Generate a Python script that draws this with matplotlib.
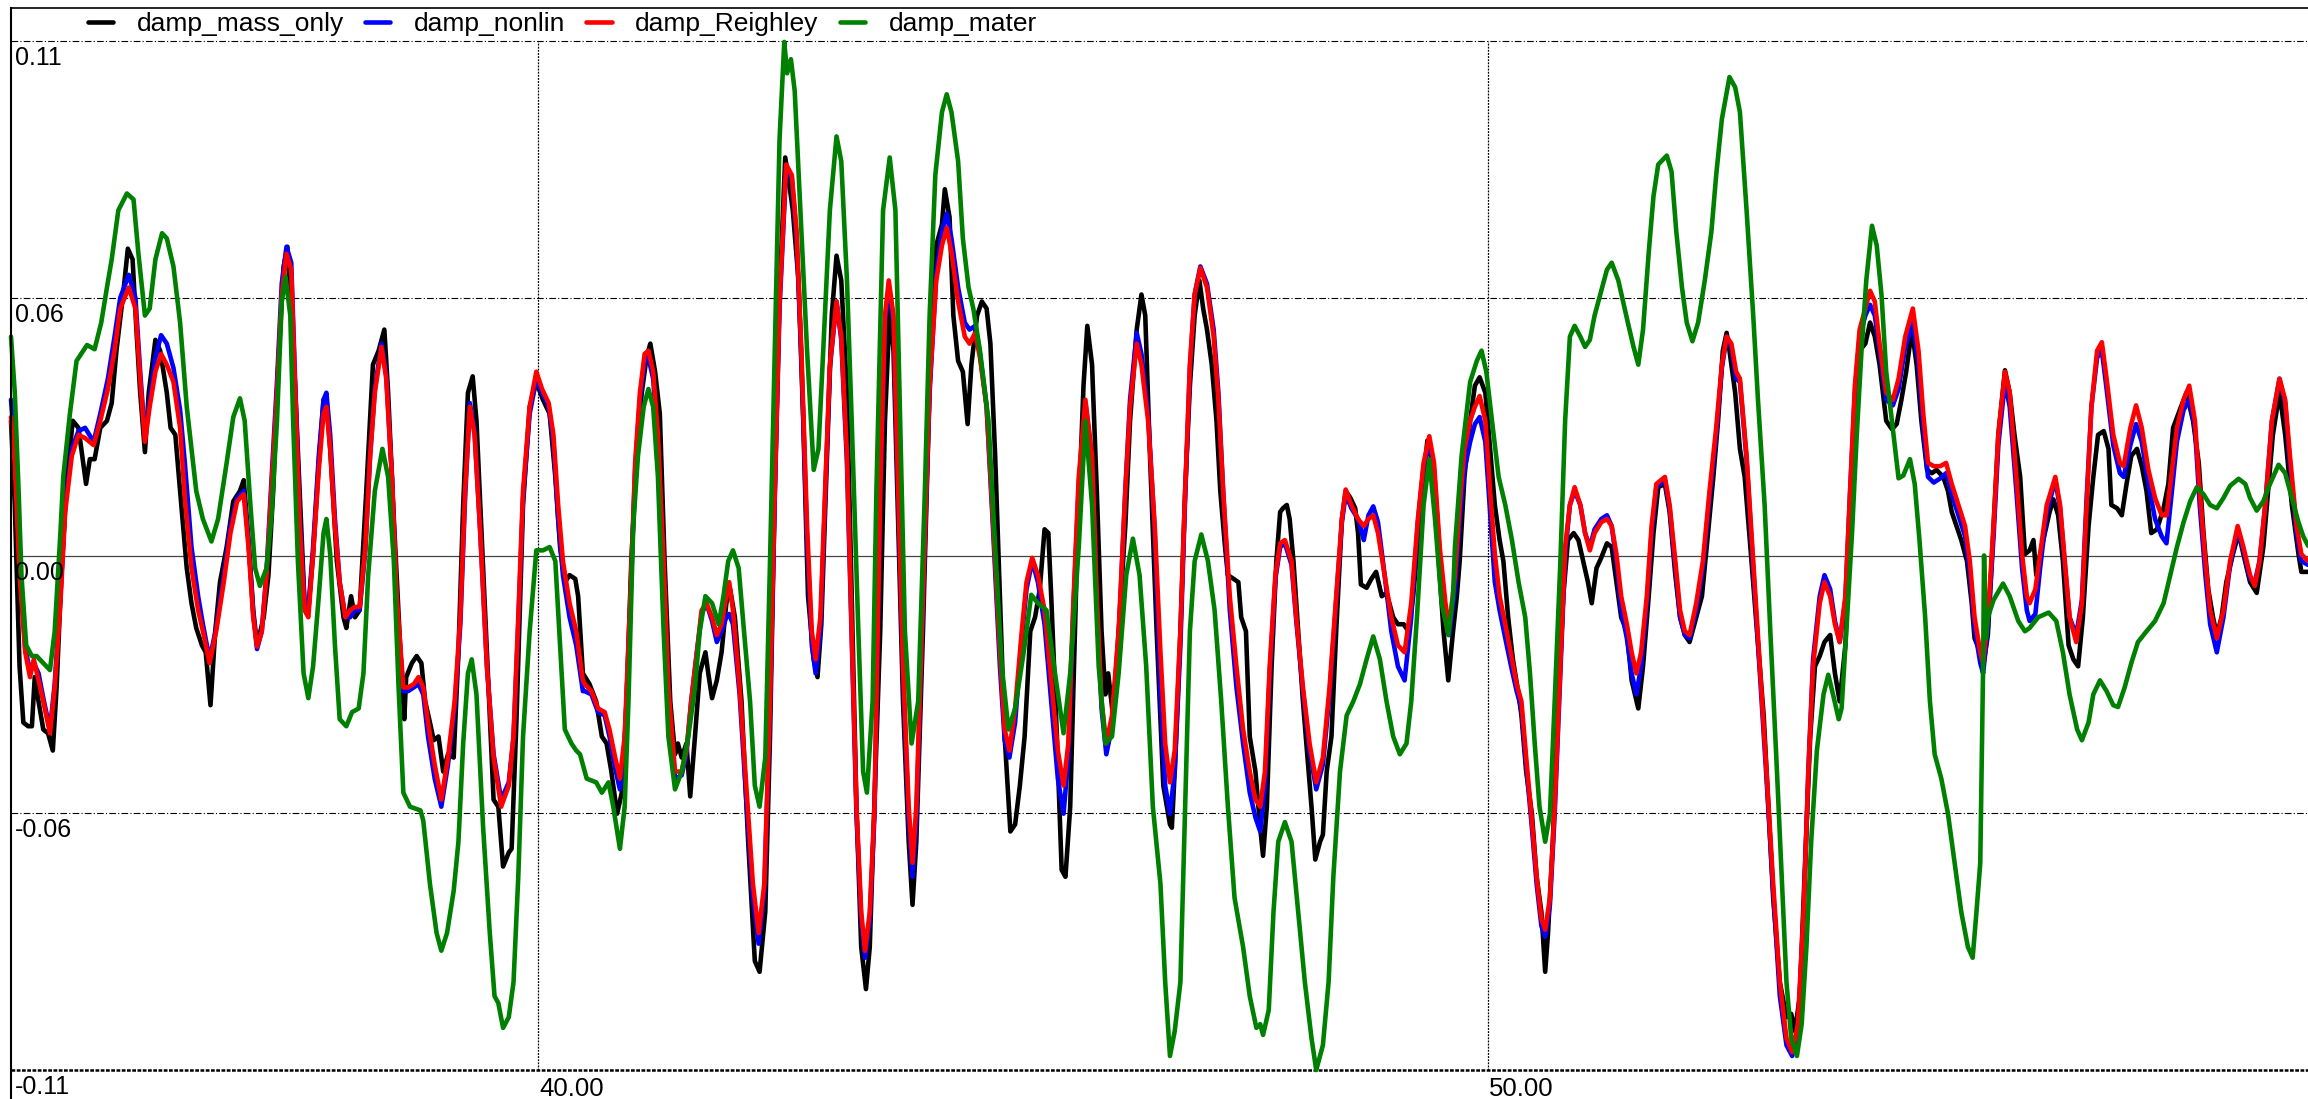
import matplotlib
matplotlib.use("Agg")
import matplotlib.pyplot as plt
from matplotlib.lines import Line2D
from matplotlib import transforms

plt.rcParams['font.family'] = ['Liberation Sans', 'DejaVu Sans']

# time samples shared by damp_nonlin and damp_Reighley
t_rb = [
    34.45, 34.49, 34.54, 34.60, 34.65, 34.69, 34.74, 34.79, 34.86, 34.91, 34.97, 35.02, 35.09, 35.16, 35.23, 35.32,
    35.39, 35.47, 35.54, 35.60, 35.69, 35.76, 35.81, 35.86, 35.91, 35.97, 36.03, 36.09, 36.16, 36.23, 36.28, 36.35,
    36.42, 36.47, 36.54, 36.61, 36.69, 36.76, 36.83, 36.90, 36.95, 37.00, 37.04, 37.09, 37.14, 37.19, 37.25, 37.30,
    37.35, 37.40,
    37.44, 37.49, 37.54, 37.58, 37.63, 37.69, 37.74, 37.77, 37.81, 37.86, 37.91, 37.97, 38.02, 38.07, 38.12, 38.18,
    38.23, 38.28, 38.35, 38.40, 38.46, 38.51, 38.58, 38.63, 38.69, 38.74, 38.79, 38.84, 38.91, 38.98, 39.05, 39.12,
    39.18, 39.23, 39.28, 39.33, 39.39, 39.46, 39.53, 39.61, 39.69, 39.74, 39.79, 39.84, 39.91, 39.98, 40.04, 40.11,
    40.16, 40.21, 40.26, 40.33, 40.40, 40.47,
    40.49, 40.56, 40.63, 40.70, 40.75, 40.81, 40.86, 40.91, 40.97, 41.02, 41.07, 41.12, 41.16, 41.21, 41.26, 41.32,
    41.37, 41.44, 41.51, 41.56, 41.61, 41.67, 41.72, 41.77, 41.83, 41.88, 41.93, 41.98, 42.01, 42.05, 42.12, 42.19,
    42.26, 42.32, 42.38, 42.44, 42.49, 42.54, 42.61, 42.67, 42.72, 42.77, 42.83, 42.88, 42.92, 42.97, 43.02, 43.07,
    43.14, 43.19, 43.25, 43.30, 43.35, 43.40, 43.44, 43.49, 43.54,
    43.60, 43.65, 43.69, 43.74, 43.79, 43.84, 43.90, 43.94, 43.98, 44.05, 44.12, 44.19, 44.25, 44.30, 44.35, 44.42,
    44.49, 44.54, 44.60, 44.65, 44.72, 44.79, 44.86, 44.91, 44.96, 45.02, 45.09, 45.14, 45.20, 45.26, 45.33, 45.40,
    45.47, 45.53, 45.58, 45.63, 45.69, 45.76, 45.83, 45.88, 45.93, 45.98, 46.04, 46.11, 46.18, 46.23, 46.30, 46.35,
    46.42, 46.49,
    46.55, 46.60, 46.65, 46.70, 46.76, 46.81, 46.86, 46.91, 46.97, 47.04, 47.11, 47.16, 47.21, 47.28, 47.35, 47.42,
    47.49, 47.55, 47.60, 47.65, 47.70, 47.76, 47.81, 47.86, 47.93, 47.98, 48.05, 48.12, 48.19, 48.26, 48.33, 48.40,
    48.46, 48.50, 48.56, 48.63, 48.69, 48.74, 48.79, 48.84, 48.91, 48.98, 49.05, 49.12, 49.19, 49.26, 49.32, 49.38,
    49.43, 49.49, 49.55, 49.59,
    49.65, 49.70, 49.75, 49.81, 49.86, 49.91, 49.97, 50.02, 50.07, 50.12, 50.18, 50.25, 50.30, 50.35, 50.40, 50.46,
    50.51, 50.56, 50.60, 50.65, 50.70, 50.76, 50.81, 50.86, 50.91, 50.97, 51.02, 51.07, 51.12, 51.19, 51.25, 51.30,
    51.35, 51.40, 51.46, 51.51, 51.56, 51.61, 51.67, 51.72, 51.77, 51.86, 51.91, 51.97, 52.02, 52.07, 52.12, 52.19,
    52.26, 52.33, 52.40, 52.46, 52.51, 52.56, 52.61,
    52.65, 52.72, 52.79, 52.86, 52.93, 53.00, 53.07, 53.14, 53.20, 53.26, 53.32, 53.37, 53.42, 53.49, 53.54, 53.60,
    53.65, 53.70, 53.76, 53.81, 53.86, 53.91, 53.97, 54.02, 54.07, 54.12, 54.19, 54.26, 54.32, 54.39, 54.47, 54.53,
    54.58, 54.63, 54.69, 54.76, 54.82, 54.88, 54.95, 55.02, 55.07, 55.12, 55.18, 55.21, 55.26, 55.32, 55.37, 55.44,
    55.49, 55.56, 55.62, 55.67,
    55.70, 55.76, 55.81, 55.88, 55.97, 56.02, 56.07, 56.12, 56.19, 56.25, 56.30, 56.35, 56.41, 56.46, 56.51, 56.58,
    56.65, 56.69, 56.76, 56.82, 56.88, 56.95, 57.02, 57.09, 57.14, 57.19, 57.25, 57.32, 57.38, 57.44, 57.49, 57.55,
    57.60, 57.67, 57.74, 57.81, 57.89, 57.95, 58.02, 58.07, 58.12, 58.18, 58.25, 58.33, 58.39, 58.44, 58.51, 58.56,
    58.63,
]

red = [
    0.0296, 0.0198, -0.0042, -0.0207, -0.0260, -0.0222, -0.0267, -0.0312, -0.0380, -0.0282, -0.0102, 0.0093, 0.0213,
    0.0258, 0.0251, 0.0236, 0.0288, 0.0356, 0.0438, 0.0528, 0.0573, 0.0528, 0.0378, 0.0243, 0.0318, 0.0393, 0.0431,
    0.0408, 0.0371, 0.0273, 0.0123, -0.0027, -0.0117, -0.0162, -0.0230, -0.0162, -0.0057, 0.0048, 0.0116, 0.0131,
    0.0018, -0.0132, -0.0195, -0.0162, -0.0042, 0.0138, 0.0348, 0.0558, 0.0645, 0.0611,
    0.0363, 0.0063, -0.0117, -0.0132, 0.0003, 0.0183, 0.0303, 0.0318, 0.0228, 0.0063, -0.0057, -0.0132, -0.0117,
    -0.0110, -0.0110, 0.0018, 0.0213, 0.0348, 0.0446, 0.0378, 0.0168, -0.0087, -0.0282, -0.0282, -0.0275, -0.0260,
    -0.0282, -0.0357, -0.0447, -0.0522, -0.0432, -0.0312, -0.0132, 0.0138, 0.0318, 0.0258, 0.0048, -0.0237, -0.0432,
    -0.0537, -0.0492, -0.0387, -0.0132, 0.0138, 0.0318, 0.0393, 0.0356, 0.0326, 0.0258, 0.0108, -0.0012, -0.0102,
    -0.0162, -0.0267,
    -0.0275, -0.0290, -0.0327, -0.0335, -0.0372, -0.0432, -0.0477, -0.0387, -0.0087, 0.0198, 0.0348, 0.0431, 0.0438,
    0.0393, 0.0258, -0.0012, -0.0282, -0.0462, -0.0462, -0.0417, -0.0312, -0.0207, -0.0117, -0.0102, -0.0132, -0.0170,
    -0.0147, -0.0087, -0.0057, -0.0117, -0.0282, -0.0492, -0.0702, -0.0807, -0.0702, -0.0312, 0.0138, 0.0543, 0.0836,
    0.0813, 0.0693, 0.0438, 0.0063, -0.0162, -0.0222, -0.0132, 0.0138, 0.0408, 0.0543, 0.0468, 0.0213, -0.0162,
    -0.0537, -0.0762, -0.0845, -0.0762, -0.0537,
    0.0138, 0.0513, 0.0588, 0.0513, 0.0138, -0.0237, -0.0537, -0.0657, -0.0537, -0.0087, 0.0363, 0.0588, 0.0663,
    0.0701, 0.0648, 0.0543, 0.0468, 0.0453, 0.0476, 0.0423, 0.0318, 0.0063, -0.0207, -0.0372, -0.0417, -0.0327,
    -0.0162, -0.0057, -0.0005, -0.0042, -0.0117, -0.0267, -0.0417, -0.0492, -0.0402, -0.0117, 0.0168, 0.0333, 0.0213,
    -0.0087, -0.0312, -0.0402, -0.0342, -0.0162, 0.0138, 0.0318, 0.0453, 0.0408, 0.0288, 0.0063,
    -0.0207, -0.0402, -0.0485, -0.0417, -0.0162, 0.0138, 0.0408, 0.0558, 0.0615, 0.0573, 0.0468, 0.0333, 0.0138,
    -0.0087, -0.0237, -0.0372, -0.0462, -0.0522, -0.0537, -0.0462, -0.0237, -0.0042, 0.0026, 0.0033, -0.0012, -0.0132,
    -0.0282, -0.0402, -0.0485, -0.0432, -0.0282, -0.0087, 0.0078, 0.0141, 0.0108, 0.0078, 0.0063, 0.0078, 0.0086,
    0.0048, -0.0042, -0.0132, -0.0192, -0.0207, -0.0102, 0.0078, 0.0198, 0.0255, 0.0198, 0.0018, -0.0102, -0.0155,
    -0.0042, 0.0108, 0.0228, 0.0288, 0.0318, 0.0341, 0.0288, 0.0138, 0.0003, -0.0087, -0.0147, -0.0222, -0.0275,
    -0.0312, -0.0432, -0.0567, -0.0687, -0.0777, -0.0800, -0.0732, -0.0537, -0.0237, 0.0018, 0.0108, 0.0146, 0.0108,
    0.0048, 0.0011, 0.0048, 0.0071, 0.0078, 0.0063, 0.0003, -0.0087, -0.0147, -0.0207, -0.0252, -0.0207, -0.0087,
    0.0063, 0.0153, 0.0168, 0.0108, -0.0012, -0.0117, -0.0162, -0.0170, -0.0102, -0.0012, 0.0138, 0.0273, 0.0408,
    0.0468, 0.0453, 0.0393,
    0.0378, 0.0213, -0.0012, -0.0237, -0.0462, -0.0702, -0.0912, -0.1032, -0.1062, -0.1002, -0.0762, -0.0462, -0.0237,
    -0.0102, -0.0057, -0.0087, -0.0147, -0.0185, -0.0087, 0.0138, 0.0363, 0.0483, 0.0528, 0.0566, 0.0543, 0.0453,
    0.0348, 0.0333, 0.0378, 0.0468, 0.0528, 0.0438, 0.0303, 0.0198, 0.0191, 0.0191, 0.0198, 0.0153, 0.0108, 0.0063,
    -0.0012, -0.0132, -0.0207, -0.0230, -0.0132, 0.0063, 0.0258, 0.0393, 0.0348, 0.0168, 0.0003, -0.0087,
    -0.0102, -0.0072, 0.0003, 0.0108, 0.0168, 0.0108, -0.0012, -0.0132, -0.0185, -0.0102, 0.0108, 0.0318, 0.0438,
    0.0456, 0.0378, 0.0258, 0.0198, 0.0191, 0.0273, 0.0321, 0.0273, 0.0183, 0.0123, 0.0086, 0.0086, 0.0168, 0.0273,
    0.0333, 0.0363, 0.0288, 0.0138, -0.0012, -0.0117, -0.0177, -0.0117, -0.0012, 0.0063, 0.0018, -0.0042, -0.0065,
    -0.0012, 0.0108, 0.0288, 0.0378, 0.0333, 0.0213, 0.0063, 0.0003, -0.0012,
]

blue = [
    0.0333, 0.0228, -0.0012, -0.0200, -0.0245, -0.0230, -0.0252, -0.0305, -0.0372, -0.0275, -0.0087, 0.0108, 0.0228,
    0.0266, 0.0273, 0.0243, 0.0303, 0.0378, 0.0468, 0.0551, 0.0600, 0.0551, 0.0393, 0.0251, 0.0333, 0.0423, 0.0471,
    0.0453, 0.0401, 0.0311, 0.0198, 0.0018, -0.0087, -0.0147, -0.0222, -0.0155, -0.0042, 0.0063, 0.0123, 0.0138,
    0.0033, -0.0125, -0.0200, -0.0162, -0.0035, 0.0153, 0.0371, 0.0581, 0.0660, 0.0626,
    0.0378, 0.0078, -0.0102, -0.0117, 0.0018, 0.0213, 0.0333, 0.0348, 0.0258, 0.0078, -0.0057, -0.0132, -0.0132,
    -0.0117, -0.0117, 0.0011, 0.0213, 0.0356, 0.0453, 0.0386, 0.0168, -0.0102, -0.0290, -0.0290, -0.0282, -0.0275,
    -0.0297, -0.0387, -0.0477, -0.0537, -0.0447, -0.0327, -0.0147, 0.0123, 0.0326, 0.0266, 0.0048, -0.0237, -0.0425,
    -0.0522, -0.0485, -0.0387, -0.0147, 0.0123, 0.0303, 0.0378, 0.0348, 0.0318, 0.0243, 0.0078, -0.0042, -0.0132,
    -0.0192, -0.0290,
    -0.0290, -0.0297, -0.0335, -0.0342, -0.0387, -0.0455, -0.0500, -0.0410, -0.0102, 0.0183, 0.0333, 0.0416, 0.0423,
    0.0378, 0.0243, -0.0027, -0.0297, -0.0477, -0.0470, -0.0425, -0.0312, -0.0207, -0.0125, -0.0102, -0.0140, -0.0185,
    -0.0162, -0.0132, -0.0125, -0.0147, -0.0297, -0.0522, -0.0732, -0.0830, -0.0717, -0.0327, 0.0123, 0.0528, 0.0828,
    0.0806, 0.0678, 0.0423, 0.0033, -0.0192, -0.0252, -0.0162, 0.0123, 0.0401, 0.0543, 0.0461, 0.0198, -0.0177,
    -0.0552, -0.0777, -0.0860, -0.0777, -0.0552,
    0.0123, 0.0498, 0.0573, 0.0498, 0.0123, -0.0252, -0.0567, -0.0687, -0.0567, -0.0102, 0.0348, 0.0603, 0.0693,
    0.0731, 0.0678, 0.0573, 0.0498, 0.0483, 0.0491, 0.0431, 0.0318, 0.0048, -0.0237, -0.0395, -0.0432, -0.0357,
    -0.0177, -0.0072, -0.0012, -0.0057, -0.0147, -0.0312, -0.0477, -0.0552, -0.0432, -0.0132, 0.0153, 0.0326, 0.0206,
    -0.0102, -0.0327, -0.0425, -0.0365, -0.0177, 0.0138, 0.0333, 0.0476, 0.0431, 0.0303, 0.0048,
    -0.0300, -0.0492, -0.0552, -0.0462, -0.0192, 0.0123, 0.0401, 0.0558, 0.0618, 0.0581, 0.0483, 0.0348, 0.0138,
    -0.0117, -0.0282, -0.0402, -0.0507, -0.0560, -0.0590, -0.0492, -0.0252, -0.0050, 0.0018, 0.0026, -0.0020, -0.0140,
    -0.0290, -0.0417, -0.0500, -0.0447, -0.0297, -0.0095, 0.0071, 0.0131, 0.0101, 0.0078, 0.0033, 0.0086, 0.0105,
    0.0071, -0.0042, -0.0162, -0.0237, -0.0267, -0.0132, 0.0071, 0.0191, 0.0243, 0.0183, 0.0003, -0.0117, -0.0170,
    -0.0072, 0.0078, 0.0183, 0.0243, 0.0281, 0.0296, 0.0243, 0.0093, -0.0057, -0.0117, -0.0177, -0.0245, -0.0290,
    -0.0327, -0.0447, -0.0582, -0.0702, -0.0792, -0.0815, -0.0747, -0.0552, -0.0252, 0.0003, 0.0108, 0.0138, 0.0108,
    0.0048, 0.0018, 0.0056, 0.0078, 0.0086, 0.0063, -0.0012, -0.0117, -0.0177, -0.0252, -0.0297, -0.0237, -0.0102,
    0.0048, 0.0146, 0.0161, 0.0101, -0.0027, -0.0132, -0.0170, -0.0177, -0.0117, -0.0027, 0.0123, 0.0258, 0.0401,
    0.0468, 0.0446, 0.0378,
    0.0371, 0.0206, -0.0027, -0.0252, -0.0477, -0.0717, -0.0942, -0.1047, -0.1070, -0.1010, -0.0777, -0.0462, -0.0222,
    -0.0087, -0.0042, -0.0072, -0.0140, -0.0185, -0.0095, 0.0138, 0.0348, 0.0468, 0.0513, 0.0536, 0.0513, 0.0438,
    0.0333, 0.0321, 0.0356, 0.0446, 0.0498, 0.0408, 0.0273, 0.0168, 0.0156, 0.0165, 0.0176, 0.0131, 0.0086, 0.0041,
    -0.0035, -0.0155, -0.0230, -0.0252, -0.0155, 0.0041, 0.0236, 0.0371, 0.0318, 0.0138, -0.0027, -0.0117,
    -0.0140, -0.0125, -0.0027, 0.0093, 0.0161, 0.0101, -0.0020, -0.0132, -0.0170, -0.0095, 0.0123, 0.0318, 0.0423,
    0.0438, 0.0356, 0.0236, 0.0176, 0.0168, 0.0236, 0.0281, 0.0243, 0.0153, 0.0078, 0.0041, 0.0026, 0.0123, 0.0243,
    0.0311, 0.0333, 0.0273, 0.0108, -0.0042, -0.0147, -0.0207, -0.0132, -0.0020, 0.0056, 0.0011, -0.0050, -0.0057,
    -0.0012, 0.0108, 0.0288, 0.0378, 0.0326, 0.0198, 0.0048, -0.0012, -0.0020,
]

t_black = [
    34.45, 34.49, 34.54, 34.58, 34.63, 34.67, 34.70, 34.74, 34.79, 34.84, 34.89, 34.93, 34.98, 35.04, 35.10, 35.16,
    35.24, 35.28, 35.33, 35.39, 35.46, 35.51, 35.56, 35.63, 35.68, 35.73, 35.77, 35.81, 35.86, 35.90, 35.97, 36.02,
    36.09, 36.13, 36.18, 36.23, 36.30, 36.35, 36.40, 36.46, 36.50, 36.55, 36.60, 36.65, 36.72, 36.79, 36.86, 36.90,
    36.95, 37.00, 37.04, 37.11, 37.16, 37.21, 37.26, 37.32, 37.36,
    37.44, 37.54, 37.58, 37.63, 37.69, 37.74, 37.77, 37.81, 37.88, 37.95, 37.98, 38.03, 38.07, 38.12, 38.19, 38.26,
    38.32, 38.38, 38.42, 38.48, 38.55, 38.59, 38.61, 38.67, 38.72, 38.77, 38.81, 38.86, 38.90, 38.95, 39.00, 39.05,
    39.11, 39.16, 39.21, 39.26, 39.31, 39.35, 39.40, 39.47, 39.53, 39.58, 39.63, 39.69, 39.72, 39.77, 39.84, 39.91,
    39.98, 40.05, 40.12, 40.18, 40.23, 40.28, 40.33, 40.39, 40.42, 40.47,
    40.54, 40.61, 40.67, 40.72, 40.77, 40.83, 40.88, 40.93, 40.98, 41.04, 41.09, 41.14, 41.18, 41.23, 41.28, 41.33,
    41.39, 41.44, 41.47, 41.51, 41.56, 41.60, 41.65, 41.70, 41.76, 41.79, 41.83, 41.88, 41.93, 41.98, 42.02, 42.07,
    42.14, 42.21, 42.28, 42.33, 42.39, 42.44, 42.49, 42.54, 42.60, 42.64, 42.68, 42.74, 42.79, 42.84, 42.90, 42.94,
    42.98, 43.04, 43.09, 43.14, 43.19, 43.25, 43.30, 43.35, 43.40, 43.45, 43.49, 43.55,
    43.60, 43.65, 43.70, 43.74, 43.79, 43.84, 43.90, 43.94, 43.98, 44.05, 44.12, 44.19, 44.25, 44.28, 44.33, 44.37,
    44.42, 44.47, 44.52, 44.56, 44.62, 44.67, 44.72, 44.76, 44.81, 44.86, 44.91, 44.97, 45.02, 45.07, 45.12, 45.18,
    45.23, 45.28, 45.33, 45.37, 45.40, 45.46, 45.51, 45.55, 45.60, 45.67, 45.74, 45.78, 45.83, 45.88, 45.93, 45.97,
    46.00, 46.05, 46.11, 46.18, 46.23, 46.30, 46.35, 46.39, 46.44, 46.51, 46.58, 46.65,
    46.67, 46.70, 46.76, 46.81, 46.86, 46.91, 46.96, 47.00, 47.04, 47.09, 47.14, 47.18, 47.23, 47.26, 47.32, 47.37,
    47.40, 47.45, 47.49, 47.55, 47.60, 47.63, 47.67, 47.72, 47.77, 47.81, 47.84, 47.88, 47.91, 47.95, 48.00, 48.05,
    48.11, 48.14, 48.18, 48.23, 48.26, 48.30, 48.35, 48.40, 48.46, 48.50, 48.55, 48.60, 48.63, 48.66, 48.72, 48.77,
    48.82, 48.88, 48.93, 49.00, 49.05, 49.11, 49.16, 49.21, 49.27, 49.32, 49.36, 49.41, 49.46, 49.53, 49.58, 49.63,
    49.67, 49.70, 49.75, 49.81, 49.86, 49.91, 49.97, 50.02, 50.07, 50.12, 50.16, 50.21, 50.26, 50.32, 50.35, 50.40,
    50.46, 50.51, 50.56, 50.60, 50.63, 50.68, 50.74, 50.79, 50.84, 50.90, 50.95, 51.00, 51.05, 51.09, 51.14, 51.19,
    51.25, 51.30, 51.35, 51.40, 51.46, 51.51, 51.58, 51.63, 51.69, 51.74, 51.79, 51.86, 51.91, 51.97, 52.02, 52.07,
    52.12, 52.19, 52.25, 52.30, 52.37, 52.42, 52.47, 52.51, 52.54, 52.60,
    52.65, 52.70, 52.76, 52.83, 52.90, 52.95, 53.00, 53.07, 53.14, 53.19, 53.23, 53.28, 53.33, 53.39, 53.44, 53.49,
    53.54, 53.60, 53.65, 53.70, 53.76, 53.81, 53.86, 53.91, 53.97, 54.02, 54.07, 54.12, 54.19, 54.25, 54.30, 54.35,
    54.40, 54.46, 54.51, 54.56, 54.62, 54.67, 54.72, 54.79, 54.84, 54.88, 54.93, 54.98, 55.04, 55.09, 55.12, 55.18,
    55.21, 55.26, 55.32, 55.37, 55.44, 55.49, 55.54, 55.60, 55.65,
    55.70, 55.74, 55.77, 55.81, 55.86, 55.91, 55.95, 56.00, 56.05, 56.11, 56.16, 56.21, 56.26, 56.32, 56.37, 56.42,
    56.48, 56.53, 56.56, 56.62, 56.67, 56.72, 56.77, 56.83, 56.88, 56.93, 56.98, 57.04, 57.11, 57.16, 57.21, 57.28,
    57.35, 57.42, 57.48, 57.53, 57.58, 57.63, 57.67, 57.72, 57.77, 57.84, 57.90, 57.95, 58.02, 58.09, 58.16, 58.21,
    58.26, 58.33, 58.39, 58.46, 58.53, 58.56, 58.63,
]

black = [
    0.0288, 0.0108, -0.0237, -0.0357, -0.0365, -0.0365, -0.0260, -0.0312, -0.0372, -0.0380, -0.0417, -0.0282, -0.0042,
    0.0168, 0.0288, 0.0273, 0.0153, 0.0206, 0.0206, 0.0273, 0.0288, 0.0326, 0.0438, 0.0558, 0.0656, 0.0633, 0.0483,
    0.0348, 0.0221, 0.0348, 0.0461, 0.0438, 0.0348, 0.0273, 0.0258, 0.0138, -0.0027, -0.0102, -0.0155, -0.0192,
    -0.0207, -0.0320, -0.0162, -0.0057, 0.0018, 0.0116, 0.0138, 0.0161, 0.0033, -0.0117, -0.0192, -0.0132, -0.0042,
    0.0138, 0.0393, 0.0618, 0.0660,
    0.0363, -0.0102, -0.0117, 0.0003, 0.0198, 0.0333, 0.0333, 0.0228, -0.0012, -0.0132, -0.0155, -0.0087, -0.0132,
    -0.0117, 0.0138, 0.0408, 0.0438, 0.0483, 0.0348, 0.0078, -0.0207, -0.0350, -0.0260, -0.0230, -0.0215, -0.0230,
    -0.0312, -0.0357, -0.0395, -0.0387, -0.0462, -0.0425, -0.0432, -0.0207, 0.0108, 0.0348, 0.0383, 0.0288, 0.0063,
    -0.0252, -0.0522, -0.0537, -0.0665, -0.0635, -0.0627, -0.0357, 0.0108, 0.0318, 0.0371, 0.0333, 0.0303, 0.0168,
    0.0018, -0.0057, -0.0042, -0.0050, -0.0087, -0.0252,
    -0.0275, -0.0312, -0.0387, -0.0402, -0.0462, -0.0552, -0.0507, -0.0312, -0.0012, 0.0228, 0.0348, 0.0423, 0.0453,
    0.0393, 0.0303, -0.0012, -0.0312, -0.0425, -0.0402, -0.0432, -0.0402, -0.0515, -0.0387, -0.0252, -0.0207, -0.0252,
    -0.0305, -0.0267, -0.0207, -0.0102, -0.0072, -0.0132, -0.0312, -0.0612, -0.0867, -0.0890, -0.0762, -0.0387, 0.0138,
    0.0558, 0.0851, 0.0798, 0.0738, 0.0588, 0.0288, -0.0087, -0.0222, -0.0260, -0.0147, 0.0213, 0.0513, 0.0641,
    0.0588, 0.0348, -0.0087, -0.0537, -0.0837, -0.0927, -0.0837, -0.0462,
    -0.0162, 0.0288, 0.0528, 0.0438, 0.0063, -0.0312, -0.0612, -0.0747, -0.0612, -0.0162, 0.0363, 0.0663, 0.0708,
    0.0783, 0.0723, 0.0513, 0.0416, 0.0393, 0.0281, 0.0408, 0.0513, 0.0543, 0.0528, 0.0453, 0.0213, -0.0087, -0.0387,
    -0.0590, -0.0575, -0.0492, -0.0387, -0.0162, -0.0132, -0.0072, 0.0056, 0.0048, -0.0087, -0.0387, -0.0672, -0.0687,
    -0.0537, -0.0012, 0.0363, 0.0491, 0.0408, 0.0138, -0.0162, -0.0297, -0.0252, -0.0342, -0.0162, 0.0063, 0.0288,
    0.0483, 0.0558, 0.0513, 0.0213, -0.0162, -0.0492, -0.0575,
    -0.0582, -0.0462, -0.0162, 0.0138, 0.0363, 0.0513, 0.0588, 0.0528, 0.0483, 0.0408, 0.0288, 0.0138, 0.0018,
    -0.0042, -0.0050, -0.0057, -0.0132, -0.0162, -0.0387, -0.0462, -0.0582, -0.0642, -0.0537, -0.0237, -0.0012, 0.0093,
    0.0101, 0.0108, 0.0078, -0.0012, -0.0162, -0.0312, -0.0462, -0.0537, -0.0650, -0.0612, -0.0597, -0.0462, -0.0387,
    -0.0162, 0.0078, 0.0138, 0.0123, 0.0101, 0.0048, -0.0062, -0.0069, -0.0050, -0.0035, -0.0087, -0.0080, -0.0132,
    -0.0147, -0.0147, -0.0162, -0.0087, 0.0048, 0.0168, 0.0246, 0.0198, 0.0048, -0.0162, -0.0267, -0.0162,
    -0.0087, -0.0012, 0.0168, 0.0288, 0.0363, 0.0381, 0.0348, 0.0228, 0.0108, 0.0033, -0.0012, -0.0132, -0.0222,
    -0.0297, -0.0342, -0.0462, -0.0552, -0.0687, -0.0762, -0.0890, -0.0807, -0.0612, -0.0312, -0.0087, 0.0033, 0.0048,
    0.0033, -0.0012, -0.0057, -0.0102, -0.0027, -0.0005, 0.0026, 0.0018, -0.0057, -0.0132, -0.0162, -0.0267, -0.0327,
    -0.0237, -0.0087, 0.0048, 0.0146, 0.0153, 0.0093, -0.0042, -0.0132, -0.0170, -0.0185, -0.0132, -0.0087, 0.0018,
    0.0168, 0.0288, 0.0438, 0.0476, 0.0438, 0.0348,
    0.0228, 0.0168, 0.0018, -0.0162, -0.0342, -0.0537, -0.0732, -0.0912, -0.0987, -0.0980, -0.1017, -0.0942, -0.0687,
    -0.0387, -0.0237, -0.0215, -0.0185, -0.0170, -0.0252, -0.0312, -0.0192, 0.0063, 0.0318, 0.0438, 0.0453, 0.0498,
    0.0468, 0.0408, 0.0288, 0.0270, 0.0281, 0.0333, 0.0393, 0.0483, 0.0408, 0.0288, 0.0183, 0.0176, 0.0183, 0.0168,
    0.0138, 0.0093, 0.0063, 0.0033, -0.0012, -0.0102, -0.0177, -0.0207, -0.0237, -0.0170, 0.0063, 0.0258, 0.0396,
    0.0348, 0.0258, 0.0168, 0.0003,
    0.0011, 0.0033, -0.0042, 0.0003, 0.0048, 0.0093, 0.0120, 0.0086, -0.0012, -0.0192, -0.0222, -0.0237, -0.0132,
    0.0063, 0.0168, 0.0258, 0.0266, 0.0228, 0.0108, 0.0101, 0.0086, 0.0153, 0.0213, 0.0228, 0.0191, 0.0138, 0.0048,
    0.0056, 0.0101, 0.0153, 0.0273, 0.0311, 0.0348, 0.0288, 0.0198, 0.0048, -0.0072, -0.0132, -0.0170, -0.0132,
    -0.0057, 0.0003, 0.0048, 0.0003, -0.0057, -0.0080, 0.0018, 0.0138, 0.0258, 0.0348, 0.0258, 0.0108, 0.0003,
    -0.0035, -0.0035,
]

t_green = [
    34.45, 34.49, 34.53, 34.56, 34.61, 34.67, 34.72, 34.79, 34.86, 34.91, 34.97, 35.00, 35.07, 35.14, 35.25, 35.33,
    35.40, 35.46, 35.51, 35.58, 35.67, 35.74, 35.79, 35.86, 35.91, 35.97, 36.04, 36.09, 36.16, 36.23, 36.30, 36.40,
    36.47, 36.56, 36.63, 36.72, 36.79, 36.86, 36.91, 36.97, 37.02, 37.07, 37.14, 37.19, 37.25, 37.30, 37.34, 37.39,
    37.42, 37.47, 37.53, 37.58, 37.63, 37.69, 37.74, 37.77, 37.81, 37.86, 37.91, 37.98, 38.04, 38.11, 38.16, 38.21,
    38.28, 38.36, 38.42, 38.48, 38.53, 38.58, 38.65, 38.76, 38.79, 38.86, 38.93, 38.98, 39.04, 39.11, 39.16, 39.21,
    39.26, 39.30, 39.35, 39.42, 39.49, 39.54, 39.58, 39.63, 39.69, 39.74, 39.79, 39.84, 39.91, 39.98, 40.05, 40.12,
    40.18, 40.23, 40.28, 40.35, 40.40,
    40.44, 40.51, 40.61, 40.67, 40.74, 40.79, 40.86, 40.91, 40.95, 41.00, 41.05, 41.11, 41.16, 41.21, 41.26, 41.32,
    41.37, 41.44, 41.51, 41.58, 41.65, 41.70, 41.76, 41.83, 41.90, 41.95, 42.00, 42.05, 42.11, 42.16, 42.23, 42.28,
    42.33, 42.39, 42.44, 42.49, 42.54, 42.59, 42.62, 42.66, 42.70, 42.76, 42.83, 42.90, 42.95, 43.00, 43.07, 43.14,
    43.19, 43.25, 43.30, 43.37, 43.42, 43.46, 43.52, 43.56,
    43.63, 43.70, 43.76, 43.81, 43.86, 43.93, 44.00, 44.07, 44.12, 44.18, 44.25, 44.30, 44.35, 44.42, 44.47, 44.53,
    44.58, 44.65, 44.74, 44.81, 44.88, 44.95, 45.02, 45.11, 45.19, 45.26, 45.35, 45.44, 45.53, 45.60, 45.69, 45.76,
    45.83, 45.90, 45.97, 46.04, 46.11, 46.19, 46.26, 46.33, 46.40, 46.47,
    46.55, 46.60, 46.65, 46.70, 46.76, 46.81, 46.86, 46.91, 46.98, 47.05, 47.12, 47.19, 47.26, 47.33, 47.42, 47.49,
    47.56, 47.60, 47.63, 47.69, 47.74, 47.79, 47.86, 47.93, 48.00, 48.07, 48.14, 48.19, 48.26, 48.32, 48.37, 48.44,
    48.51, 48.58, 48.65, 48.72, 48.79, 48.86, 48.93, 49.00, 49.07, 49.14, 49.19, 49.25, 49.32, 49.38, 49.44, 49.51,
    49.58, 49.63,
    49.65, 49.72, 49.81, 49.88, 49.93, 49.98, 50.04, 50.11, 50.18, 50.25, 50.32, 50.39, 50.44, 50.49, 50.54, 50.60,
    50.65, 50.70, 50.76, 50.81, 50.86, 50.91, 50.97, 51.02, 51.07, 51.12, 51.18, 51.25, 51.30, 51.37, 51.42, 51.47,
    51.53, 51.58, 51.63, 51.69, 51.74, 51.79, 51.88, 51.93, 51.98, 52.04, 52.09, 52.15, 52.21, 52.28, 52.35, 52.40,
    52.46, 52.54, 52.60, 52.65,
    52.72, 52.79, 52.84, 52.91, 52.97, 53.04, 53.09, 53.14, 53.19, 53.25, 53.30, 53.35, 53.40, 53.46, 53.53, 53.58,
    53.63, 53.69, 53.72, 53.77, 53.83, 53.88, 53.93, 53.98, 54.04, 54.09, 54.14, 54.19, 54.25, 54.32, 54.37, 54.44,
    54.49, 54.54, 54.60, 54.65, 54.70, 54.77, 54.84, 54.91, 54.98, 55.05, 55.10, 55.14, 55.18, 55.21, 55.22, 55.24,
    55.26, 55.32, 55.42, 55.49, 55.58, 55.65,
    55.70, 55.79, 55.90, 55.98, 56.05, 56.12, 56.20, 56.25, 56.32, 56.37, 56.44, 56.51, 56.58, 56.63, 56.70, 56.77,
    56.84, 56.93, 57.02, 57.11, 57.18, 57.25, 57.32, 57.39, 57.46, 57.53, 57.60, 57.67, 57.74, 57.81, 57.90, 57.97,
    58.02, 58.09, 58.16, 58.23, 58.32, 58.39, 58.46, 58.53, 58.58, 58.63,
]

green = [
    0.0468, 0.0348, 0.0138, -0.0042, -0.0192, -0.0215, -0.0215, -0.0230, -0.0245, -0.0162, 0.0048, 0.0168, 0.0303,
    0.0416, 0.0450, 0.0441, 0.0498, 0.0573, 0.0633, 0.0738, 0.0774, 0.0761, 0.0648, 0.0513, 0.0528, 0.0633, 0.0689,
    0.0678, 0.0618, 0.0498, 0.0318, 0.0138, 0.0078, 0.0030, 0.0078, 0.0198, 0.0296, 0.0336, 0.0288, 0.0108, -0.0027,
    -0.0065, -0.0027, 0.0078, 0.0288, 0.0543, 0.0596, 0.0513,
    0.0288, -0.0012, -0.0252, -0.0305, -0.0237, -0.0087, 0.0048, 0.0078, 0.0003, -0.0192, -0.0350, -0.0365, -0.0335,
    -0.0327, -0.0252, -0.0042, 0.0138, 0.0228, 0.0168, -0.0012, -0.0282, -0.0507, -0.0537, -0.0545, -0.0567, -0.0702,
    -0.0807, -0.0845, -0.0807, -0.0717, -0.0612, -0.0402, -0.0252, -0.0222, -0.0297, -0.0582, -0.0807, -0.0942,
    -0.0957, -0.1010, -0.0987, -0.0912, -0.0687, -0.0387, -0.0162, 0.0011, 0.0011, 0.0018, -0.0012, -0.0192, -0.0372,
    -0.0402, -0.0417,
    -0.0425, -0.0477, -0.0485, -0.0507, -0.0485, -0.0537, -0.0627, -0.0537, -0.0312, 0.0063, 0.0213, 0.0318, 0.0356,
    0.0318, 0.0168, -0.0162, -0.0387, -0.0500, -0.0462, -0.0387, -0.0282, -0.0162, -0.0087, -0.0102, -0.0147, -0.0087,
    -0.0012, 0.0011, -0.0027, -0.0147, -0.0312, -0.0492, -0.0537, -0.0432, -0.0012, 0.0438, 0.0888, 0.1098, 0.1031,
    0.1061, 0.0993, 0.0738, 0.0438, 0.0183, 0.0228, 0.0438, 0.0738, 0.0896, 0.0843, 0.0588, 0.0288, -0.0162, -0.0462,
    -0.0507, -0.0312, 0.0138,
    0.0738, 0.0851, 0.0738, 0.0288, -0.0162, -0.0402, -0.0312, 0.0138, 0.0513, 0.0813, 0.0948, 0.0986, 0.0948, 0.0843,
    0.0678, 0.0573, 0.0528, 0.0438, 0.0288, 0.0018, -0.0237, -0.0372, -0.0327, -0.0207, -0.0084, -0.0102, -0.0117,
    -0.0252, -0.0380, -0.0252, 0.0018, 0.0288, 0.0108, -0.0237, -0.0402, -0.0387, -0.0252, -0.0042, 0.0036, -0.0042,
    -0.0237, -0.0537,
    -0.0702, -0.0912, -0.1070, -0.1017, -0.0912, -0.0537, -0.0162, -0.0012, 0.0045, -0.0012, -0.0117, -0.0312, -0.0537,
    -0.0732, -0.0837, -0.0942, -0.1010, -0.1002, -0.1025, -0.0972, -0.0762, -0.0612, -0.0570, -0.0612, -0.0762,
    -0.0912, -0.1032, -0.1100, -0.1047, -0.0912, -0.0687, -0.0462, -0.0342, -0.0312, -0.0275, -0.0222, -0.0173,
    -0.0222, -0.0312, -0.0387, -0.0425, -0.0402, -0.0312, -0.0132, 0.0108, 0.0206, 0.0078, -0.0102, -0.0170, -0.0087,
    0.0018, 0.0213, 0.0371, 0.0416, 0.0438, 0.0393, 0.0288, 0.0168, 0.0108, 0.0033, -0.0057, -0.0132, -0.0252, -0.0402,
    -0.0537, -0.0612, -0.0552, -0.0312, -0.0012, 0.0288, 0.0468, 0.0491, 0.0468, 0.0446, 0.0461, 0.0513, 0.0558,
    0.0611, 0.0626, 0.0588, 0.0543, 0.0498, 0.0446, 0.0408, 0.0483, 0.0648, 0.0768, 0.0836, 0.0855, 0.0821, 0.0693,
    0.0573, 0.0498, 0.0458, 0.0498, 0.0588, 0.0693, 0.0813, 0.0933, 0.1023, 0.1001, 0.0948,
    0.0738, 0.0513, 0.0333, 0.0108, -0.0162, -0.0462, -0.0687, -0.0912, -0.1032, -0.1070, -0.1002, -0.0837, -0.0612,
    -0.0417, -0.0297, -0.0255, -0.0297, -0.0350, -0.0327, -0.0162, 0.0048, 0.0258, 0.0438, 0.0588, 0.0705, 0.0663,
    0.0558, 0.0393, 0.0288, 0.0165, 0.0171, 0.0206, 0.0153, 0.0033, -0.0132, -0.0312, -0.0425, -0.0477, -0.0552,
    -0.0657, -0.0762, -0.0837, -0.0860, -0.0762, -0.0657, -0.0237, 0.0000, -0.0177, -0.0132, -0.0095, -0.0060, -0.0087,
    -0.0140, -0.0162,
    -0.0155, -0.0132, -0.0122, -0.0140, -0.0207, -0.0297, -0.0372, -0.0395, -0.0357, -0.0297, -0.0267, -0.0290,
    -0.0320, -0.0324, -0.0282, -0.0230, -0.0185, -0.0162, -0.0140, -0.0102, -0.0042, 0.0018, 0.0071, 0.0116, 0.0146,
    0.0131, 0.0108, 0.0101, 0.0123, 0.0149, 0.0164, 0.0153, 0.0123, 0.0096, 0.0116, 0.0153, 0.0194, 0.0176, 0.0123,
    0.0071, 0.0041, 0.0021,
]

series = [
    ("damp_mass_only", t_black, black, "#000000"),
    ("damp_nonlin", t_rb, blue, "#0000ff"),
    ("damp_Reighley", t_rb, red, "#ff0000"),
    ("damp_mater", t_green, green, "#008000"),
]

y_ticks = [0.11, 0.055, 0.0, -0.055, -0.11]
y_labels = ["0.11", "0.06", "0.00", "-0.06", "-0.11"]
x_ticks = [40, 50]
x_labels = ["40.00", "50.00"]

W, H = 2308, 1099
fig = plt.figure(figsize=(W / 100, H / 100), dpi=100)
ax = fig.add_axes([11 / W, 1 - 1070 / H, 1 - 11 / W, (1070 - 41) / H])
ax.set_xlim(34.45, 58.63)
ax.set_ylim(-0.11, 0.11)
for s in ax.spines.values():
    s.set_visible(False)
ax.set_xticks([])
ax.set_yticks([])

# grid lines
for yv in y_ticks:
    if yv == 0.0:
        ax.axhline(yv, color="#444444", lw=0.9, zorder=1)
    elif yv == -0.11:
        ax.axhline(yv, color="black", lw=1.8, ls=(0, (1.5, 0.6)), zorder=1, clip_on=False)
    else:
        ax.axhline(yv, color="black", lw=0.8, ls=(0, (6, 2, 1, 2)), zorder=1, clip_on=False)
for xv in x_ticks:
    ax.axvline(xv, color="black", lw=0.9, ls=(0, (1.5, 1)), zorder=1)

handles = []
for name, t, v, c in series:
    h, = ax.plot(t, v, color=c, lw=3.3, label=name, zorder=3, clip_on=False,
                 solid_joinstyle="round", solid_capstyle="round")
    handles.append(h)

# tick labels sit inside the plot, just under their grid line
for yv, lab in zip(y_ticks, y_labels):
    tr = transforms.offset_copy(ax.get_yaxis_transform(), fig=fig, x=4, y=-5, units="dots")
    ax.text(0, yv, lab, transform=tr, ha="left", va="top", fontsize=18, zorder=5)
for xv, lab in zip(x_ticks, x_labels):
    tr = transforms.offset_copy(ax.get_xaxis_transform(), fig=fig, x=1, y=-7, units="dots")
    ax.text(xv, 0, lab, transform=tr, ha="left", va="top", fontsize=18.5, clip_on=False)

# outer frame: left edge and the line above the legend strip
fig.add_artist(Line2D([11 / W, 11 / W], [0, 1 - 8 / H], color="black", lw=1.5))
fig.add_artist(Line2D([11 / W, 1], [1 - 8 / H, 1 - 8 / H], color="black", lw=1.2))

fig.legend(handles=handles, loc="center left", bbox_to_anchor=(88 / W, 1 - 24 / H), ncol=4,
           frameon=False, fontsize=19, handlelength=0.95, handletextpad=0.9, columnspacing=0.8,
           borderpad=0, borderaxespad=0)

fig.savefig("out.png", dpi=100)
